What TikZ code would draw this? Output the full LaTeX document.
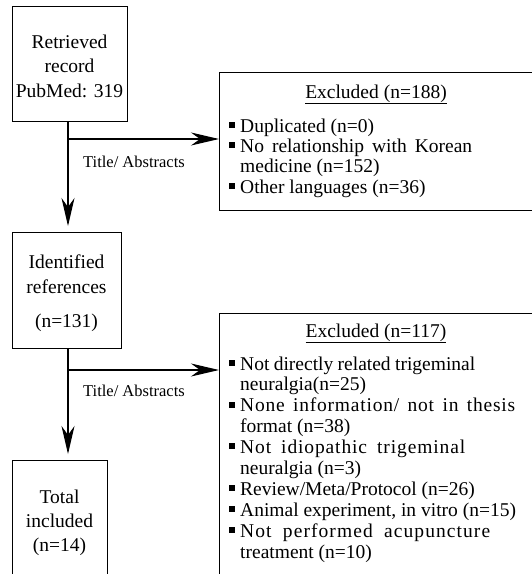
\documentclass[tikz,border=0pt]{standalone}
\usepackage{fontspec}
\setmainfont{Liberation Serif}
\usetikzlibrary{arrows.meta,calc}
\newcommand{\spreadline}[3]{\makebox[#1][s]{\addfontfeature{LetterSpace=#2}#3}}
\begin{document}
\begin{tikzpicture}[x=1pt,y=-1pt,
  box/.style={draw,line width=0.9pt,inner sep=0pt,outer sep=0pt,anchor=north west},
  txt/.style={font=\fontsize{19.5}{21}\selectfont,inner sep=0pt,anchor=base},
  itm/.style={font=\fontsize{19.5}{21}\selectfont,inner sep=0pt,anchor=base west},
  lab/.style={font=\fontsize{16.5}{18}\selectfont,inner sep=0pt,anchor=base west},
  bul/.style={fill=black,draw=none,minimum size=6pt,inner sep=0pt,anchor=south west},
  arr/.style={line width=1.1pt,-{Stealth[length=28pt,width=13pt,inset=9pt]}},
]
\useasboundingbox (0,0) rectangle (532,574);
\clip (0,0) rectangle (532,574);

% left column boxes
\node[box,minimum width=115pt,minimum height=115pt] (b1) at (12,6) {};
\node[txt] (b1a) at (69.5,48) {Retrieved};
\node[txt] (b1b) at (69.5,72) {record};
\node[txt] (b1c) at (69.5,97) {PubMed: 319};

\node[box,minimum width=109pt,minimum height=116pt] (b2) at (12,232) {};
\node[txt] (b2a) at (66.5,268) {Identified};
\node[txt] (b2b) at (66.5,293) {references};
\node[txt] (b2c) at (66.5,327) {(n=131)};

\node[box,minimum width=95pt,minimum height=140pt] (b3) at (12,460) {};
\node[txt] (b3a) at (59.5,503) {Total};
\node[txt] (b3b) at (59.5,527) {included};
\node[txt] (b3c) at (59.5,551) {(n=14)};

% excluded boxes
\node[box,minimum width=330pt,minimum height=138pt] (e1) at (219,72) {};
\node[txt] (e1t) at (376,98) {\underline{Excluded (n=188)}};
\node[bul] (e1p1) at (229,128) {};
\node[itm] (e1i1) at (240,132) {Duplicated (n=0)};
\node[bul] (e1p2) at (229,148.3) {};
\node[itm] (e1i2) at (240,152.3) {\makebox[232pt][s]{No relationship with Korean}};
\node[itm] (e1i3) at (240,172.6) {medicine (n=152)};
\node[bul] (e1p4) at (229,189) {};
\node[itm] (e1i4) at (240,193) {Other languages (n=36)};

\node[box,minimum width=330pt,minimum height=300pt] (e2) at (219,313) {};
\node[txt] (e2t) at (376,337) {\underline{Excluded (n=117)}};
\node[bul] (e2p1) at (229,366) {};
\node[itm] (e2i1) at (240,370) {\makebox[235pt][s]{Not directly related trigeminal}};
\node[itm] (e2i2) at (240,390.9) {neuralgia(n=25)};
\node[bul] (e2p3) at (229,407.8) {};
\node[itm] (e2i3) at (240,411.8) {\spreadline{275pt}{4}{None information/ not in thesis}};
\node[itm] (e2i4) at (240,432.7) {format (n=38)};
\node[bul] (e2p5) at (229,449.6) {};
\node[itm] (e2i5) at (240,453.6) {\spreadline{225pt}{4.5}{Not idiopathic trigeminal}};
\node[itm] (e2i6) at (240,474.5) {neuralgia (n=3)};
\node[bul] (e2p7) at (229,491.4) {};
\node[itm] (e2i7) at (240,495.4) {Review/Meta/Protocol (n=26)};
\node[bul] (e2p8) at (229,512.3) {};
\node[itm] (e2i8) at (240,516.3) {Animal experiment, in vitro (n=15)};
\node[bul] (e2p9) at (229,533.2) {};
\node[itm] (e2i9) at (240,537.2) {\spreadline{250pt}{5.5}{Not performed acupuncture}};
\node[itm] (e2i10) at (240,558.1) {treatment (n=10)};

% connectors
\coordinate (j1) at (68,139);
\coordinate (t1) at (68,226);
\coordinate (j2) at (68,370);
\coordinate (t2) at (68,454);
\draw[arr] (j1 |- b1.south) -- (t1);
\draw[arr] (j1) -- (j1 -| e1.west);
\node[lab] (l1) at (83,167) {Title/ Abstracts};
\draw[arr] (j2 |- b2.south) -- (t2);
\draw[arr] (j2) -- (j2 -| e2.west);
\node[lab] (l2) at (83,396) {Title/ Abstracts};
\end{tikzpicture}
\end{document}
